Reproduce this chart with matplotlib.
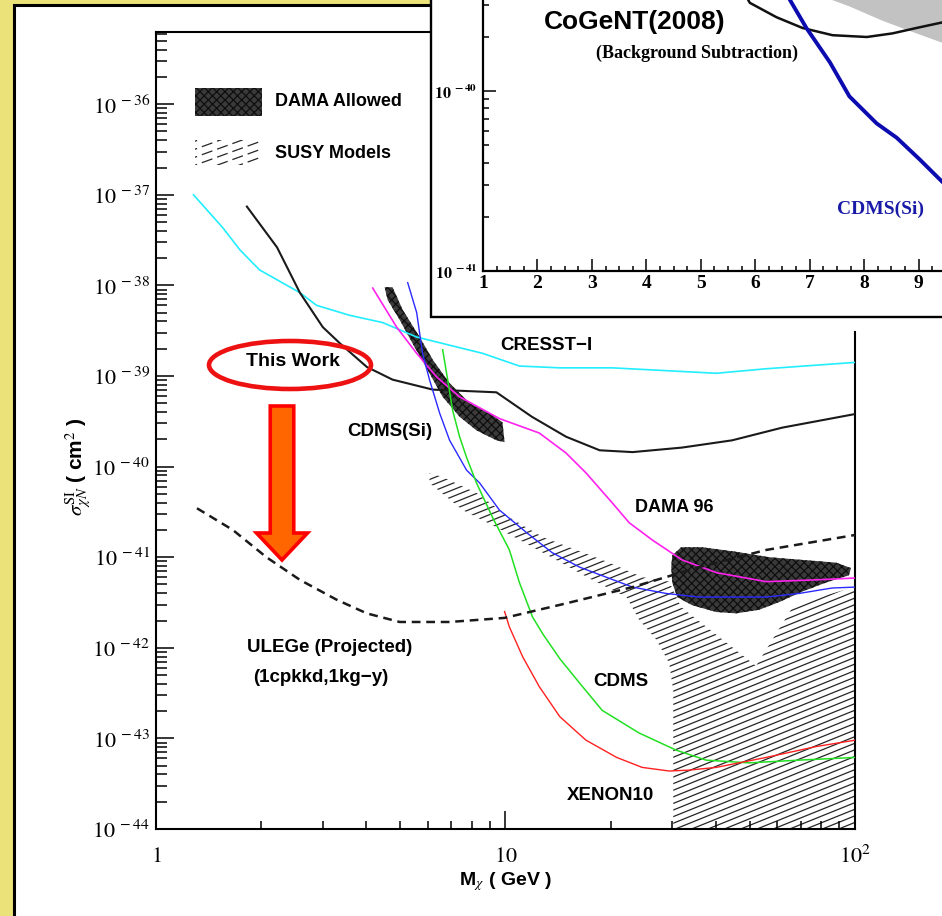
import numpy as np
import matplotlib
matplotlib.use("Agg")
import matplotlib.pyplot as plt
from matplotlib.patches import Rectangle, Polygon, Ellipse, FancyArrow
from matplotlib.collections import LineCollection
from matplotlib.ticker import LogLocator, NullFormatter, FixedLocator, MultipleLocator

plt.rcParams['mathtext.fontset'] = 'stix'
plt.rcParams['hatch.linewidth'] = 0.9

# ---------------- data (mass in GeV, log10 of cross-section in cm^2) ----------------
cresst_m = [1.28, 1.55, 1.74, 1.98, 2.58, 2.88, 3.58, 4.45, 5.57, 6.92, 8.60, 10.96, 14.3, 20.2, 40.1, 55.7, 100]
cresst_log = [-37.0, -37.36, -37.61, -37.83, -38.08, -38.22, -38.33, -38.41, -38.57, -38.66, -38.75, -38.89,
              -38.91, -38.91, -38.97, -38.92, -38.85]

thiswork_m = [1.82, 2.22, 2.58, 3.0, 3.36, 4.01, 4.75, 6.19, 9.42, 11.9, 14.9, 18.6, 23.1, 32.0, 44.5, 61.9, 100]
thiswork_log = [-37.13, -37.58, -38.08, -38.46, -38.64, -38.90, -39.04, -39.15, -39.18, -39.45, -39.67, -39.82,
                -39.84, -39.79, -39.71, -39.57, -39.42]

dama96_m = [4.17, 4.88, 5.57, 6.35, 7.39, 9.61, 12.5, 14.9, 17.0, 20.2, 22.6, 26.3, 32.0, 40.1, 55.7, 77.4, 100]
dama96_log = [-38.03, -38.46, -38.75, -39.01, -39.23, -39.47, -39.63, -39.85, -40.07, -40.40, -40.62, -40.81,
              -41.03, -41.17, -41.27, -41.25, -41.23]

cdmssi_m = [5.25, 5.57, 5.79, 6.06, 6.48, 6.92, 7.74, 8.43, 9.61, 11.5, 13.6, 16.3, 19.4, 23.1, 28.8, 35.8,
            55.7, 69.2, 86.0, 100]
cdmssi_log = [-37.97, -38.30, -38.75, -39.04, -39.41, -39.71, -40.04, -40.18, -40.48, -40.73, -40.95, -41.11,
              -41.22, -41.33, -41.40, -41.44, -41.44, -41.40, -41.34, -41.33]

cdms_m = [6.61, 6.83, 7.06, 7.39, 7.74, 8.26, 9.18, 10.26, 10.96, 11.95, 12.8, 14.3, 16.3, 18.9, 24.1, 30.8,
          37.5, 49.8, 69.2, 100]
cdms_log = [-38.71, -39.04, -39.38, -39.67, -39.90, -40.18, -40.56, -40.92, -41.28, -41.66, -41.85, -42.12,
            -42.39, -42.69, -42.94, -43.13, -43.24, -43.27, -43.24, -43.21]

xenon_m = [9.94, 10.26, 11.2, 12.5, 14.3, 17.0, 20.8, 24.6, 29.4, 33.5, 40.1, 55.7, 77.4, 100]
xenon_log = [-41.60, -41.77, -42.10, -42.43, -42.76, -43.02, -43.21, -43.32, -43.36, -43.35, -43.32, -43.21,
             -43.09, -43.02]

ulege_m = [1.31, 1.66, 2.07, 2.58, 3.29, 4.01, 4.98, 6.92, 9.94, 14.9, 23.1, 35.8, 55.7, 100]
ulege_log = [-40.46, -40.70, -41.00, -41.25, -41.47, -41.62, -41.715, -41.715, -41.67, -41.51, -41.33, -41.11,
             -40.92, -40.755]

dama1_m = [4.51, 4.75, 5.08, 5.68, 6.19, 6.92, 7.89, 9.0, 9.80, 9.94, 9.42, 8.26, 7.39, 6.61, 6.06, 5.42, 4.98, 4.60]
dama1_log = [-38.02, -38.02, -38.27, -38.57, -38.82, -39.08, -39.30, -39.41, -39.51, -39.73, -39.71, -39.60,
             -39.45, -39.23, -38.97, -38.64, -38.38, -38.16]

dama2_m = [30.0, 31.8, 36.5, 45.7, 56.8, 70.6, 88.3, 97.4, 96.1, 82.6, 70.6, 60.7, 53.2, 45.7, 40.1, 34.2, 31.0,
           30.0, 29.8]
dama2_log = [-40.98, -40.89, -40.89, -40.94, -41.00, -41.03, -41.06, -41.12, -41.20, -41.28, -41.38, -41.495,
             -41.58, -41.62, -41.605, -41.53, -41.44, -41.28, -41.11]

susy_m = [6.06, 6.61, 8.26, 10.26, 12.8, 15.96, 19.8, 24.6, 29.4, 31.8, 52.1, 66.1, 78.9, 100, 100, 30.2, 30.2,
          29.4, 27.0, 24.1, 22.2, 17.7, 12.8, 9.42, 7.54, 6.06]
susy_log = [-40.07, -40.115, -40.29, -40.56, -40.78, -40.92, -41.06, -41.22, -41.27, -41.55, -42.20, -41.56,
            -41.44, -41.33, -44.5, -44.5, -42.47, -42.17, -41.91, -41.69, -41.44, -41.25, -40.95, -40.67,
            -40.48, -40.18]

# inset (CoGeNT 2008)
cogent_m = [5.7, 5.90, 6.39, 6.87, 7.42, 8.05, 8.52, 8.96, 9.42, 9.7]
cogent_log = [-39.40, -39.51, -39.59, -39.65, -39.69, -39.70, -39.68, -39.65, -39.62, -39.60]
in_cdmssi_m = [6.50, 6.63, 6.94, 7.37, 7.73, 8.23, 8.60, 9.02, 9.42, 9.7]
in_cdmssi_log = [-39.42, -39.49, -39.65, -39.84, -40.03, -40.18, -40.26, -40.38, -40.50, -40.58]
gray_m = [7.2, 7.37, 7.73, 8.34, 8.96, 9.42, 9.8, 9.8, 7.0]
gray_log = [-39.40, -39.49, -39.53, -39.61, -39.68, -39.73, -39.76, -39.0, -39.0]

main_yticks = [-44, -43, -42, -41, -40, -39, -38, -37, -36]
main_xticks = [1, 10, 100]
main_xlabels = [r'$1$', r'$10$', r'$10^{2}$']
inset_xticks = [1, 2, 3, 4, 5, 6, 7, 8, 9]
inset_yticks = [-41, -40]

# ---------------- layout ----------------
W, H = 942, 916
fig = plt.figure(figsize=(W / 100, H / 100), dpi=100)
fig.patch.set_facecolor('#ECE27A')


def fx(x):
    return x / W


def fy(y):
    return 1 - y / H


SANS = 'Liberation Sans'
SERIF = 'Liberation Serif'

panel = Rectangle((fx(14), fy(960)), 1.2, fy(5) - fy(960), transform=fig.transFigure,
                  facecolor='white', edgecolor='black', lw=2.2, zorder=-5)
fig.add_artist(panel)

ax = fig.add_axes([fx(156), fy(829), (855 - 156) / W, (829 - 32) / H])
ax.set_xscale('log')
ax.set_yscale('log')
ax.set_xlim(1, 100)
ax.set_ylim(1e-44, 10 ** (-44 + 797 / 90.6))
ax.patch.set_alpha(0)
for s in ['left', 'bottom', 'top', 'right']:
    ax.spines[s].set_linewidth(1.5)
ax.spines['right'].set_bounds(1e-44, 10 ** -38.51)

ax.xaxis.set_major_locator(FixedLocator(main_xticks))
ax.xaxis.set_minor_locator(LogLocator(base=10, subs=range(2, 10), numticks=20))
ax.xaxis.set_minor_formatter(NullFormatter())
ax.set_xticklabels(main_xlabels, fontsize=16, va='baseline')
ax.yaxis.set_major_locator(FixedLocator([10.0 ** v for v in main_yticks]))
ax.yaxis.set_minor_locator(LogLocator(base=10, subs=range(2, 10), numticks=30))
ax.yaxis.set_minor_formatter(NullFormatter())
ax.set_yticklabels([r'$10^{\;%d}$' % v for v in main_yticks], fontsize=16)
ax.tick_params(axis='both', which='both', direction='in', top=False, right=False, width=1.1, color='black')
ax.tick_params(axis='x', which='major', length=13, pad=24)
ax.tick_params(axis='x', which='minor', length=6)
ax.tick_params(axis='y', which='major', length=13, pad=4)
ax.tick_params(axis='y', which='minor', length=8)


def hatch_fill(ax_, clip_patch, angle_deg, spacing_px, lw=0.9, color='#262626', ls='-'):
    bb = ax_.bbox
    w, h = bb.width, bb.height
    t = np.tan(np.radians(angle_deg))
    step = spacing_px
    segs = []
    c = -t * w - step
    while c < h + step:
        segs.append([(0, c / h), (1, (t * w + c) / h)])
        c += step
    lc = LineCollection(segs, transform=ax_.transAxes, colors=color, linewidths=lw, linestyles=ls, zorder=1.5)
    ax_.add_collection(lc)
    lc.set_clip_path(clip_patch)
    return lc


# SUSY models hatched region
susy_poly = Polygon(np.column_stack([susy_m, 10.0 ** np.array(susy_log)]), closed=True,
                    facecolor='none', edgecolor='none', transform=ax.transData)
ax.add_patch(susy_poly)
hatch_fill(ax, susy_poly, 22, 6.6)

# DAMA allowed regions
for mm, ll in [(dama1_m, dama1_log), (dama2_m, dama2_log)]:
    ax.add_patch(Polygon(np.column_stack([mm, 10.0 ** np.array(ll)]), closed=True,
                         facecolor='#3a3a3a', edgecolor='#0e0e0e', hatch='xxxx', lw=0, zorder=2))

# limit curves
ax.plot(cresst_m, 10.0 ** np.array(cresst_log), color='#22eeff', lw=1.2, zorder=3)
ax.plot(thiswork_m, 10.0 ** np.array(thiswork_log), color='#1a1a1a', lw=1.5, zorder=3)
ax.plot(dama96_m, 10.0 ** np.array(dama96_log), color='#ff22ee', lw=1.2, zorder=3)
ax.plot(cdmssi_m, 10.0 ** np.array(cdmssi_log), color='#2a2aff', lw=1.0, zorder=3)
ax.plot(cdms_m, 10.0 ** np.array(cdms_log), color='#22e022', lw=1.1, zorder=3)
ax.plot(xenon_m, 10.0 ** np.array(xenon_log), color='#ff2020', lw=1.0, zorder=3)
ax.plot(ulege_m, 10.0 ** np.array(ulege_log), color='#1a1a1a', lw=1.8, ls=(0, (3.5, 2.3)), zorder=3)

# legend samples
leg_dama = Rectangle((0.0558, 0.8946), 0.0959, 0.0351, transform=ax.transAxes,
                     facecolor='#3a3a3a', edgecolor='#0e0e0e', hatch='xxxx', lw=0, zorder=2)
ax.add_patch(leg_dama)
leg_susy = Rectangle((0.0558, 0.8331), 0.0959, 0.0314, transform=ax.transAxes,
                     facecolor='none', edgecolor='none')
ax.add_patch(leg_susy)
hatch_fill(ax, leg_susy, 20, 8.0, ls=(0, (9, 4)))


def ftxt(x, y, s, **kw):
    kw.setdefault('family', SANS)
    kw.setdefault('weight', 'bold')
    kw.setdefault('fontsize', 13.5)
    kw.setdefault('va', 'center')
    return fig.text(fx(x), fy(y), s, **kw)


ftxt(275, 102, 'DAMA Allowed', fontsize=13)
ftxt(275, 153, 'SUSY Models', fontsize=13)
ftxt(500, 345, 'CRESST\u2212I')
ftxt(347, 432, 'CDMS(Si)')
ftxt(635, 507, 'DAMA 96', fontsize=13)
ftxt(593, 682, 'CDMS')
ftxt(567, 796, 'XENON10')
ftxt(247, 647, 'ULEGe (Projected)', fontsize=13.5)
ftxt(253, 678, '(1cpkkd,1kg\u2212y)', fontsize=13.5)
ftxt(293, 362, 'This Work', ha='center', fontsize=14, zorder=4)
ftxt(505, 882, r'M$_{\chi}$ ( GeV )', ha='center', fontsize=14)
ftxt(79, 467, r'$\sigma^{\rm SI}_{\chi N}$ ( cm$^{2}$ )', ha='center', rotation=90, fontsize=15)

# red ellipse and arrow
ell = Ellipse((2.90, (H - 365) / 100), 1.62, 0.48, transform=fig.dpi_scale_trans,
              facecolor='none', edgecolor='#ee1111', lw=3.3, zorder=3)
fig.add_artist(ell)
arr = FancyArrow(2.82, (H - 406) / 100, 0, -(560 - 406) / 100, width=0.235, head_width=0.51,
                 head_length=0.27, length_includes_head=True, facecolor='#ff6600', edgecolor='#ff0000',
                 lw=2.6, transform=fig.dpi_scale_trans, zorder=3)
fig.add_artist(arr)

# ---------------- inset ----------------
inset_box = Rectangle((fx(431), fy(317)), 1.0, 1.0, transform=fig.transFigure,
                      facecolor='white', edgecolor='black', lw=1.7, zorder=1)
fig.add_artist(inset_box)

ax2 = fig.add_axes([fx(483), fy(271), (973 - 483) / W, 360 / H], zorder=2)
ax2.set_yscale('log')
ax2.set_xlim(1, 10)
ax2.set_ylim(1e-41, 1e-39)
ax2.patch.set_alpha(0)
ax2.spines['top'].set_visible(False)
ax2.spines['right'].set_visible(False)
ax2.spines['left'].set_linewidth(1.6)
ax2.spines['bottom'].set_linewidth(1.6)

ax2.add_patch(Polygon(np.column_stack([gray_m, 10.0 ** np.array(gray_log)]), closed=True,
                      facecolor='#c2c2c2', edgecolor='none', zorder=1))
ax2.plot(cogent_m, 10.0 ** np.array(cogent_log), color='#111111', lw=1.8, zorder=3)
ax2.plot(in_cdmssi_m, 10.0 ** np.array(in_cdmssi_log), color='#0b0bb0', lw=2.8, zorder=3)

ax2.xaxis.set_major_locator(FixedLocator(inset_xticks))
ax2.xaxis.set_minor_locator(MultipleLocator(0.25))
ax2.set_xticklabels([str(v) for v in inset_xticks], family=SERIF, weight='bold', fontsize=14)
ax2.yaxis.set_major_locator(FixedLocator([10.0 ** v for v in inset_yticks] + [1e-39]))
ax2.yaxis.set_minor_locator(LogLocator(base=10, subs=range(2, 10), numticks=30))
ax2.yaxis.set_minor_formatter(NullFormatter())
ax2.set_yticklabels([r'$\mathbf{10^{\;%d}}$' % v for v in inset_yticks] + [''], fontsize=11.5)
ax2.tick_params(axis='both', which='both', direction='in', top=False, right=False, width=1.1)
ax2.tick_params(axis='x', which='major', length=8.6, pad=3)
ax2.tick_params(axis='x', which='minor', length=3.6)
ax2.tick_params(axis='y', which='major', length=9.4, pad=4)
ax2.tick_params(axis='y', which='minor', length=4.3)

ftxt(635, 22, 'CoGeNT(2008)', ha='center', fontsize=19, zorder=5)
ftxt(697, 53, '(Background Subtraction)', ha='center', family=SERIF, fontsize=13, zorder=5)
ftxt(880, 209, 'CDMS(Si)', ha='center', family=SERIF, fontsize=14, color='#1a1aa8', zorder=5)

fig.savefig('out.png', dpi=100)
